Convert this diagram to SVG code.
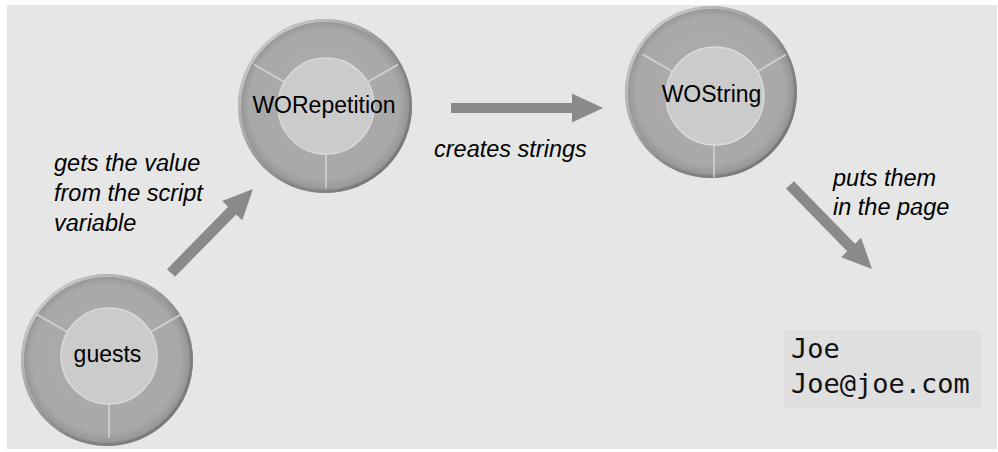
<svg xmlns="http://www.w3.org/2000/svg" width="998" height="452" viewBox="0 0 998 452">
<style>
.outer{fill:url(#ringFill)}
.rim{fill:none;stroke:url(#rim);stroke-width:3}
.inner{fill:#cbcbcb;stroke:#dadada;stroke-width:1.5}
.innerShade{fill:none;stroke:#b4b4b4;stroke-width:1}
.spoke{stroke:#d2d2d2;stroke-width:1.6;fill:none}
.node-text{font-family:"Liberation Sans",Arial,sans-serif;font-size:23px;fill:#000;text-anchor:middle}
.label{font-family:"Liberation Sans",Arial,sans-serif;font-size:23.5px;font-style:italic;fill:#000}
.arrow{fill:#8a8a8a}
.mono{font-family:"DejaVu Sans Mono","Liberation Mono",monospace;font-size:27px;fill:#111}
</style>
<defs>
<radialGradient id="ringFill" cx="0.5" cy="0.5" r="0.5" fx="0.46" fy="0.44">
<stop offset="0" stop-color="#ababab"/>
<stop offset="0.86" stop-color="#a9a9a9"/>
<stop offset="0.95" stop-color="#999999"/>
<stop offset="1" stop-color="#858585"/>
</radialGradient>
<linearGradient id="rim" x1="0" y1="0" x2="1" y2="1">
<stop offset="0" stop-color="#e6e6e6" stop-opacity="0.95"/>
<stop offset="0.4" stop-color="#c8c8c8" stop-opacity="0.4"/>
<stop offset="0.6" stop-color="#7a7a7a" stop-opacity="0.3"/>
<stop offset="1" stop-color="#6a6a6a" stop-opacity="0.9"/>
</linearGradient>
</defs>
<rect x="0" y="0" width="998" height="452" fill="#ffffff"/>
<rect x="7" y="5" width="990" height="444" fill="#e6e6e6"/>

<g id="node-guests">
<circle class="outer" cx="107" cy="360" r="86"/>
<circle class="rim" cx="107" cy="360" r="84.5"/>
<line class="spoke" x1="67.4" y1="332" x2="37" y2="314.5"/>
<line class="spoke" x1="150.6" y1="332" x2="181" y2="314.5"/>
<line class="spoke" x1="109" y1="404" x2="109" y2="438"/>
<circle class="inner" cx="109" cy="356" r="48"/>
<text class="node-text" x="107.5" y="362">guests</text>
</g>

<g id="node-worepetition">
<circle class="outer" cx="325" cy="106" r="87"/>
<circle class="rim" cx="325" cy="106" r="85.5"/>
<line class="spoke" x1="284.4" y1="82" x2="254" y2="64.5"/>
<line class="spoke" x1="367.6" y1="82" x2="398" y2="64.5"/>
<line class="spoke" x1="326" y1="154" x2="326" y2="188"/>
<circle class="inner" cx="326" cy="106" r="48"/>
<text class="node-text" x="324" y="113">WORepetition</text>
</g>

<g id="node-wostring">
<circle class="outer" cx="711" cy="92" r="86"/>
<circle class="rim" cx="711" cy="92" r="84.5"/>
<line class="spoke" x1="673.4" y1="72" x2="643" y2="54.5"/>
<line class="spoke" x1="756.6" y1="72" x2="786" y2="54.5"/>
<line class="spoke" x1="714" y1="145" x2="714" y2="177"/>
<circle class="inner" cx="715" cy="96" r="49"/>
<text class="node-text" x="711.5" y="102">WOString</text>
</g>

<g id="node-output">
<rect x="784" y="330" width="197" height="78" fill="#dfdfdf"/>
<text class="mono" x="791" y="358">Joe</text>
<text class="mono" x="791" y="393">Joe@joe.com</text>
</g>

<g id="connectors">
<polygon class="arrow" points="167,269.2 228.2,206.8 222.1,200.9 253,189 242.3,220.3 236.2,214.4 175,276.8"/>
<polygon class="arrow" points="451,103 572,103 572,93.5 603,108 572,122.5 572,113 451,113"/>
<polygon class="arrow" points="793.9,181.2 855,243.7 861.1,237.7 872,269 841.1,257.3 847.2,251.3 786.1,188.8"/>
</g>

<g id="labels">
<text class="label" x="54" y="171">gets the value</text>
<text class="label" x="54" y="201">from the script</text>
<text class="label" x="54" y="231">variable</text>
<text class="label" x="434" y="157">creates strings</text>
<text class="label" x="833" y="186">puts them</text>
<text class="label" x="833" y="215">in the page</text>
</g>
</svg>
